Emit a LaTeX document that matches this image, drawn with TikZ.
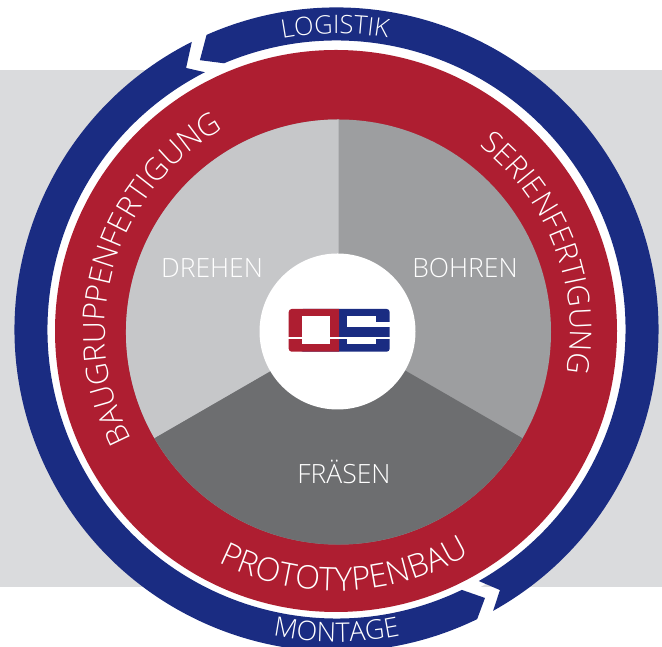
\documentclass[tikz,border=0pt]{standalone}
\usepackage{fontspec}
\setmainfont{Open Sans Light}
\usetikzlibrary{decorations.text}
\definecolor{bandgray}{HTML}{DADBDD}
\definecolor{ringblue}{HTML}{1A2C82}
\definecolor{ringred}{HTML}{AE1E31}
\definecolor{seclight}{HTML}{C6C7C9}
\definecolor{secmid}{HTML}{9D9EA0}
\definecolor{secdark}{HTML}{6D6E70}
\tikzset{
 lab/.style={text=white,font=\fontsize{#1}{#1}\selectfont,inner sep=0pt},
 ringtext/.style n args={2}{decorate,decoration={text along path,text align=center,
   text={|\fontsize{#1}{#1}\selectfont\color{white}|#2}}},
}
\begin{document}
\begin{tikzpicture}[x=1pt,y=1pt]
\useasboundingbox (0,0) rectangle (662,647);
\begin{scope}
\clip (0,0) rectangle (662,647);
\fill[bandgray] (0,60) rectangle (662,577);
\fill[white] (336.5,317.5) circle[radius=295];
% blue ring
\begin{scope}[shift={(336.5,317.5)}]
\fill[ringblue] (113.8:322) arc[start angle=113.8,end angle=-60.9,radius=322]
  -- (-57.9:307.6) -- (-60.5:289) arc[start angle=-60.5,end angle=112.9,radius=289]
  -- (116.9:302) -- cycle;
\fill[ringblue] (-64.1:322) arc[start angle=-64.1,end angle=-243.3,radius=322]
  -- (119.9:301.7) -- (-242.9:289) arc[start angle=-242.9,end angle=-64.3,radius=289]
  -- (-61.05:306.8) -- cycle;
\path[ringtext={25.5}{LOGISTIK}] (140:296) arc[start angle=140,end angle=40.6,radius=296];
\path[ringtext={27}{MONTAGE}] (220:312.5) arc[start angle=220,end angle=320,radius=312.5];
\end{scope}
% red ring
\fill[ringred] (336,316) circle[radius=281];
\begin{scope}[shift={(336,316)}]
\path[ringtext={32.5}{PROTOTYPENBAU}] (212:260) arc[start angle=212,end angle=332,radius=260];
\path[ringtext={30}{SERIENFERTIGUNG}] (91:234) arc[start angle=91,end angle=-49,radius=234];
\path[ringtext={30.5}{BAUGRUPPENFERTIGUNG}] (243.5:231) arc[start angle=243.5,end angle=83.5,radius=231];
\end{scope}
% sectors
\begin{scope}[shift={(338.5,315)}]
\fill[secmid] (0,0) circle[radius=212.5];
\fill[seclight] (0,0) -- (210:212.5) arc[start angle=210,end angle=90,radius=212.5] -- cycle;
\fill[secdark] (0,0) -- (-30:212.5) arc[start angle=-30,end angle=-150,radius=212.5] -- cycle;
\end{scope}
\fill[white] (337.5,315.5) circle[radius=78];
\node[lab=26.5] (drehen) at (212,379) {DREHEN};
\node[lab=26.5] (bohren) at (465,379) {BOHREN};
\node[lab=26.5] (fraesen) at (344,175) {FRÄSEN};
% logo (pixel rows converted to y = 647 - row)
\fill[ringblue, rounded corners=3pt] (300,295.3) rectangle (389.7,338);
\fill[ringred] (339,338) [rounded corners=3pt] -- (288.7,338) -- (288.7,295.3) [sharp corners] -- (339,295.3) -- cycle;
\fill[white] (302,302.7) rectangle (330.3,330.7);
\fill[white] (347.3,320.3) rectangle (376.3,330.7);
\fill[white] (376.3,320.3) rectangle (390,325.3);
\fill[white] (347.3,302.7) rectangle (376.3,307.7);
\fill[white] (288,307.6) rectangle (390,309.6);
\end{scope}
\end{tikzpicture}
\end{document}
